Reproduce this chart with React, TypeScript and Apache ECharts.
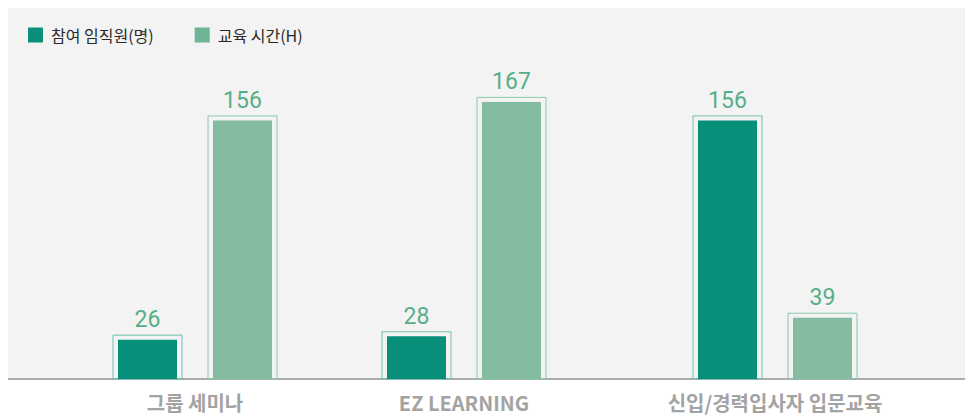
import React, { useEffect, useRef } from "react";
import * as echarts from "echarts";

const categories = ["그룹 세미나", "EZ LEARNING", "신입/경력입사자 입문교육"];
const seriesNames = ["참여 임직원(명)", "교육 시간(H)"];
const employees = [26, 28, 156];
const hours = [156, 167, 39];
const yMax = 220;

const FILL = ["#088f7a", "#84bca2"];
const STROKE = ["#6cbfae", "#8cc8ab"];
const LEGEND = ["#0a8f7a", "#6db595"];
const LABEL = "#58ae88";
const FONT = "'Noto Sans CJK KR', 'Noto Sans', sans-serif";

// group centres (px from chart left) for each category panel
const groupCenters = [187, 456, 767];
const panelWidth = 300;
const barOffset = 47.5;

export default function App() {
  const ref = useRef<HTMLDivElement>(null);
  useEffect(() => {
    if (!ref.current) return;
    const chart = echarts.init(ref.current, undefined, { renderer: "svg" });

    const grids: any[] = [
      { show: true, backgroundColor: "#f3f3f3", borderWidth: 0, left: 0, right: 0, top: 0, bottom: 36 },
    ];
    const xAxes: any[] = [
      {
        type: "category", gridIndex: 0, data: [""],
        axisLine: { show: true, lineStyle: { color: "#ababab", width: 2 } },
        axisTick: { show: false }, axisLabel: { show: false }, splitLine: { show: false },
      },
    ];
    const yAxes: any[] = [{ type: "value", gridIndex: 0, show: false, min: 0, max: yMax }];
    const series: any[] = [];

    const makeRender = (k: number) => (params: any, api: any) => {
      const v = api.value(1);
      const top = api.coord([api.value(0), v]);
      const base = api.coord([api.value(0), 0]);
      const cx = top[0] + (k === 0 ? -barOffset : barOffset);
      const h = base[1] - top[1];
      return {
        type: "group",
        children: [
          {
            type: "rect",
            shape: { x: cx - 34.5, y: top[1], width: 69, height: h },
            style: { fill: "none", stroke: STROKE[k], lineWidth: 1 },
          },
          {
            type: "rect",
            shape: { x: cx - 29.5, y: top[1] + 4.5, width: 59, height: h - 4.5 },
            style: { fill: FILL[k] },
          },
          {
            type: "text",
            x: cx,
            y: top[1] - 4,
            style: {
              text: String(v),
              fill: LABEL,
              font: "23px Roboto, 'Noto Sans', sans-serif",
              align: "center",
              verticalAlign: "bottom",
            },
          },
        ],
      };
    };

    categories.forEach((cat, i) => {
      const gi = i + 1;
      grids.push({ left: groupCenters[i] - panelWidth / 2, width: panelWidth, top: 0, bottom: 36 });
      xAxes.push({
        type: "category", gridIndex: gi, data: [cat],
        axisLine: { show: false }, axisTick: { show: false },
        axisLabel: { color: "#a3a3a3", fontSize: 20, fontWeight: "bold", fontFamily: FONT, margin: 13 },
      });
      yAxes.push({ type: "value", gridIndex: gi, show: false, min: 0, max: yMax });
      [employees, hours].forEach((arr, k) => {
        series.push({
          type: "custom",
          name: seriesNames[k],
          xAxisIndex: gi,
          yAxisIndex: gi,
          itemStyle: { color: LEGEND[k] },
          encode: { x: 0, y: 1 },
          data: [[0, arr[i]]],
          renderItem: makeRender(k),
          z: 3,
        });
      });
    });

    chart.setOption({
      animation: false,
      grid: grids,
      xAxis: xAxes,
      yAxis: yAxes,
      legend: {
        left: 15,
        top: 14,
        itemWidth: 15,
        itemHeight: 15,
        itemGap: 41,
        icon: "rect",
        data: seriesNames.map((n, k) => ({ name: n, itemStyle: { color: LEGEND[k] } })),
        textStyle: { color: "#2a2a2a", fontSize: 16, fontFamily: FONT, padding: [0, 0, 0, 3] },
      },
      series,
    });
    return () => chart.dispose();
  }, []);
  return <div ref={ref} style={{ width: 965, height: 407 }} />;
}
